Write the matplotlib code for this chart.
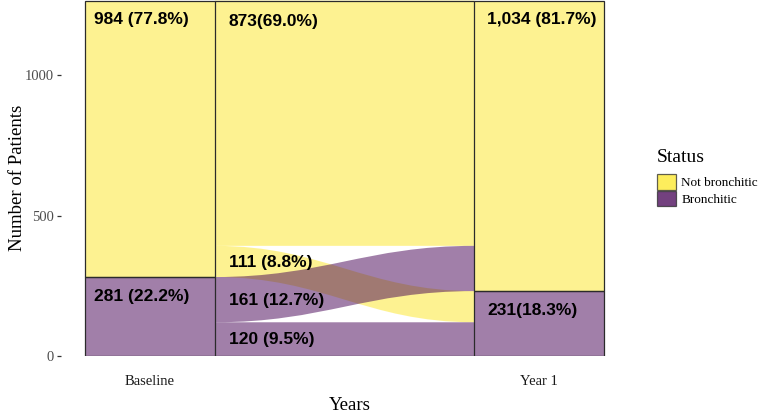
import matplotlib
matplotlib.use("Agg")
import matplotlib.pyplot as plt
from matplotlib.patches import Rectangle, PathPatch, Patch
from matplotlib.path import Path

# ---- data ----
timepoints = ["Baseline", "Year 1"]
statuses = ["Bronchitic", "Not bronchitic"]          # stacking order bottom -> top
baseline_counts = [281, 984]
year1_counts = [231, 1034]
baseline_labels = ["281 (22.2%)", "984 (77.8%)"]
year1_labels = ["231(18.3%)", "1,034 (81.7%)"]
# flows: (from status, to status, count, label)
flow_from = ["Bronchitic", "Bronchitic", "Not bronchitic", "Not bronchitic"]
flow_to = ["Bronchitic", "Not bronchitic", "Bronchitic", "Not bronchitic"]
flow_counts = [120, 161, 111, 873]
flow_labels = ["120 (9.5%)", "161 (12.7%)", "111 (8.8%)", "873(69.0%)"]

colors = {"Not bronchitic": "#FDE725", "Bronchitic": "#440154"}
serif = "Liberation Serif"
sans = "Liberation Sans"

fig = plt.figure(figsize=(7.6, 4.13), dpi=100)
W, H = 760, 413
ax = fig.add_axes([61 / W, (H - 356) / H, (640 - 61) / W, 356 / H])
ax.set_xlim(0.771, 2.259)
ax.set_ylim(0, 1267)

width = 1 / 3
edge = "#2b2b2b"

# ---- flows ----
x0 = 1 + width / 2
x1 = 2 - width / 2
left_pos = {}
cur = 0.0
for s in statuses:
    for d in statuses:
        for i in range(len(flow_counts)):
            if flow_from[i] == s and flow_to[i] == d:
                left_pos[i] = (cur, cur + flow_counts[i])
                cur += flow_counts[i]
right_pos = {}
cur = 0.0
for d in statuses:
    for s in statuses:
        for i in range(len(flow_counts)):
            if flow_from[i] == s and flow_to[i] == d:
                right_pos[i] = (cur, cur + flow_counts[i])
                cur += flow_counts[i]

k = 0.42 * (x1 - x0)
order = [i for i in range(len(flow_counts)) if flow_from[i] == "Not bronchitic"] + \
        [i for i in range(len(flow_counts)) if flow_from[i] == "Bronchitic"]
for i in order:
    lb, lt = left_pos[i]
    rb, rt = right_pos[i]
    verts = [(x0, lt), (x0 + k, lt), (x1 - k, rt), (x1, rt),
             (x1, rb), (x1 - k, rb), (x0 + k, lb), (x0, lb), (x0, lt)]
    codes = [Path.MOVETO, Path.CURVE4, Path.CURVE4, Path.CURVE4,
             Path.LINETO, Path.CURVE4, Path.CURVE4, Path.CURVE4, Path.CLOSEPOLY]
    ax.add_patch(PathPatch(Path(verts, codes), facecolor=colors[flow_from[i]],
                           alpha=0.5, edgecolor="none", zorder=1))

total = sum(baseline_counts)
ax.plot([x0, x1], [0, 0], color=edge, lw=0.9, zorder=3, solid_capstyle="butt")
ax.plot([x0, x1], [total, total], color=edge, lw=0.9, zorder=3, solid_capstyle="butt")

# ---- strata ----
for xi, counts in zip([1, 2], [baseline_counts, year1_counts]):
    bottom = 0
    for s, c in zip(statuses, counts):
        ax.add_patch(Rectangle((xi - width / 2, bottom), width, c,
                               facecolor=colors[s], alpha=0.5, edgecolor="none", zorder=2))
        ax.add_patch(Rectangle((xi - width / 2, bottom), width, c,
                               facecolor="none", edgecolor=edge, lw=0.9, zorder=3))
        bottom += c

# ---- stratum labels ----
lab_font = dict(family=sans, fontweight="bold", fontsize=12.5, color="black",
                va="center", ha="left", zorder=5)
bottom = 0
for c, lab in zip(baseline_counts, baseline_labels):
    ax.text(1 - width / 2 + 0.022, bottom + c - 68, lab, **lab_font)
    bottom += c
bottom = 0
for c, lab in zip(year1_counts, year1_labels):
    ax.text(2 - width / 2 + 0.033, bottom + c - 68, lab, **lab_font)
    bottom += c

# ---- flow labels ----
for i in range(len(flow_counts)):
    lb, lt = left_pos[i]
    if flow_counts[i] > 500:
        y = lt - 76
    else:
        y = (lb + lt) / 2 - 3
    ax.text(x0 + 0.035, y, flow_labels[i], **lab_font)

# ---- axes styling ----
for sp in ax.spines.values():
    sp.set_visible(False)
ax.set_yticks([0, 500, 1000])
ax.set_yticklabels(["0", "500", "1000"], family=serif, fontsize=10.5, color="#4D4D4D")
ax.tick_params(axis="y", length=3, width=0.9, color="#333333", pad=2)
ax.set_xticks([1, 2])
ax.set_xticklabels(timepoints, family=serif, fontsize=10.5, color="#1a1a1a")
ax.tick_params(axis="x", length=0, pad=14)

fig.text(350 / W, 1 - 405 / H, "Years", family=serif, fontsize=13.5,
         ha="center", va="center")
fig.text(18 / W, 1 - 178 / H, "Number of Patients", family=serif, fontsize=13.5,
         ha="center", va="center", rotation=90)

# ---- legend ----
handles = [Patch(facecolor=colors[s], alpha=0.75, edgecolor=edge, lw=0.9)
           for s in ["Not bronchitic", "Bronchitic"]]
leg = fig.legend(handles, ["Not bronchitic", "Bronchitic"], title="Status",
                 loc="upper left", bbox_to_anchor=(653 / W, 1 - 145 / H),
                 frameon=False, prop=dict(family=serif, size=9.5),
                 handlelength=1.45, handleheight=1.45, handletextpad=0.4,
                 labelspacing=0.05, borderaxespad=0, borderpad=0.3)
leg.get_title().set_fontfamily(serif)
leg.get_title().set_fontsize(14)
leg._legend_box.align = "left"
leg._legend_box.sep = 6

fig.savefig("out.png", dpi=100)
